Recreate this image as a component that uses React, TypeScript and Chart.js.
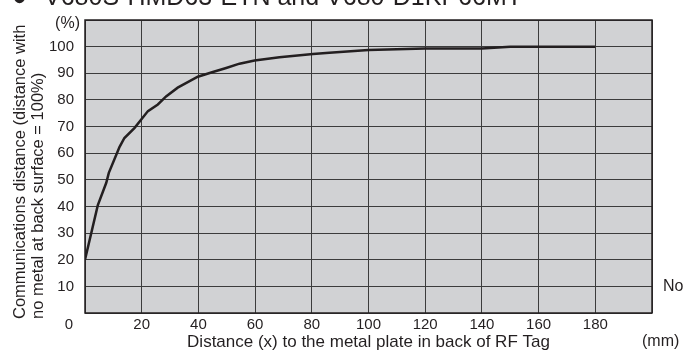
import React, { useEffect, useRef } from "react";
import { Chart, registerables } from "chart.js";

Chart.register(...registerables);

// Distance (x) to metal plate [mm]
const distanceMm = [0, 4.5, 7.5, 8.4, 11, 12.2, 13.9, 17.5, 22.2, 25.7, 28.6, 32.7, 39.8, 45.1, 49.8, 54.5, 59.8, 68.6, 80.4, 86.2, 100, 120, 140, 150, 180];
// Communications distance [%]
const commPercent = [20, 40.4, 48.9, 52.6, 59.3, 62.4, 65.7, 69.5, 75.8, 78.3, 81.3, 84.6, 88.7, 90.5, 92, 93.6, 94.8, 96, 97.2, 97.7, 98.7, 99.3, 99.3, 100, 100];

const xTickLabels = [20, 40, 60, 80, 100, 120, 140, 160, 180];
const yTickLabels = [10, 20, 30, 40, 50, 60, 70, 80, 90, 100];

const titleText = "V680S-HMD63-ETN and V680-D1KP66MT";
const xTitle = "Distance (x) to the metal plate in back of RF Tag";
const yTitleLines = ["Communications distance (distance with", "no metal at back surface = 100%)"];
const sideNote = "No metal";

const FONT = "'Liberation Sans', Arial, Helvetica, sans-serif";
const TEXT = "#231f20";

const decor = {
  id: "decor",
  beforeDraw(chart: any) {
    const { ctx, chartArea } = chart;
    const { left, top, width, height } = chartArea;
    ctx.save();
    ctx.fillStyle = "#d1d2d4";
    ctx.fillRect(left, top, width, height);
    ctx.restore();
  },
  afterDraw(chart: any) {
    const { ctx, chartArea } = chart;
    const { left, top, right, bottom, width, height } = chartArea;
    ctx.save();
    ctx.strokeStyle = "#231f20";
    ctx.lineWidth = 1.5;
    ctx.strokeRect(left, top, width, height);

    ctx.fillStyle = TEXT;
    // cut-off title
    ctx.font = `25px ${FONT}`;
    ctx.textAlign = "left";
    ctx.textBaseline = "alphabetic";
    ctx.fillText("\u25CF", 12, 5);
    ctx.fillText(titleText, 44, 5);

    // (%) unit
    ctx.font = `16px ${FONT}`;
    ctx.textAlign = "right";
    ctx.textBaseline = "middle";
    ctx.fillText("(%)", left - 5, top + 4);

    // origin 0
    ctx.font = `15px ${FONT}`;
    ctx.textAlign = "center";
    ctx.fillText("0", left - 16, bottom + 12);

    // (mm) unit
    ctx.font = `16px ${FONT}`;
    ctx.textAlign = "left";
    ctx.fillText("(mm)", right - 10, bottom + 29);

    // side note (clipped at canvas edge)
    ctx.fillText(sideNote, right + 11, chart.scales.y.getPixelForValue(10));

    // rotated y title
    ctx.font = `16.5px ${FONT}`;
    ctx.textAlign = "left";
    ctx.textBaseline = "alphabetic";
    const baseX = [25, 43];
    yTitleLines.forEach((line, i) => {
      ctx.save();
      ctx.translate(baseX[i], bottom + 6);
      ctx.rotate(-Math.PI / 2);
      ctx.fillText(line, 0, 0);
      ctx.restore();
    });
    ctx.restore();
  },
};

export default function App() {
  const ref = useRef<HTMLCanvasElement | null>(null);

  useEffect(() => {
    if (!ref.current) return;
    const chart = new Chart(ref.current, {
      type: "line",
      data: {
        datasets: [
          {
            data: distanceMm.map((x, i) => ({ x, y: commPercent[i] })),
            borderColor: "#231f20",
            borderWidth: 2.5,
            pointRadius: 0,
            tension: 0,
            fill: false,
          },
        ],
      },
      options: {
        responsive: false,
        animation: false,
        events: [],
        layout: { padding: { left: 0, top: 13, right: 31, bottom: 0 } },
        plugins: { legend: { display: false }, tooltip: { enabled: false }, title: { display: false } },
        scales: {
          x: {
            type: "linear",
            min: 0,
            max: 200,
            afterFit: (s: any) => {
              s.height = 38;
            },
            ticks: {
              stepSize: 20,
              autoSkip: false,
              maxRotation: 0,
              padding: 3,
              color: TEXT,
              font: { family: FONT, size: 15 },
              callback: (v: any) => (xTickLabels.includes(Number(v)) ? String(v) : ""),
            },
            grid: { color: "#3c3c3c", lineWidth: 1, drawTicks: false },
            border: { display: false },
            title: {
              display: true,
              text: xTitle,
              color: TEXT,
              font: { family: FONT, size: 17, lineHeight: 1 },
              padding: { top: 0, bottom: 0.5 },
            },
          },
          y: {
            type: "linear",
            min: 0,
            max: 110,
            afterFit: (s: any) => {
              s.width = 85;
            },
            ticks: {
              stepSize: 10,
              autoSkip: false,
              padding: 11,
              color: TEXT,
              font: { family: FONT, size: 15 },
              callback: (v: any) => (yTickLabels.includes(Number(v)) ? String(v) : ""),
            },
            grid: { color: "#3c3c3c", lineWidth: 1, drawTicks: false },
            border: { display: false },
          },
        },
      },
      plugins: [decor],
    });
    return () => chart.destroy();
  }, []);

  return (
    <div style={{ position: "fixed", left: 0, top: 0, width: 683, height: 351, background: "#ffffff" }}>
      <canvas ref={ref} width={683} height={351} style={{ display: "block" }} />
    </div>
  );
}
